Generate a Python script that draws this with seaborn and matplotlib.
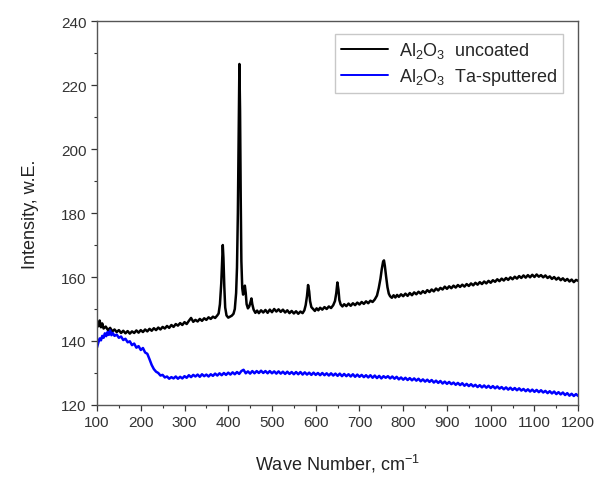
import matplotlib
matplotlib.use("Agg")
import matplotlib.pyplot as plt
from matplotlib.ticker import MultipleLocator
import seaborn as sns
import pandas as pd

# Raman-Spektren
uncoated_wn = [
    100, 103, 106, 109, 112, 115, 120, 125, 130, 135, 140, 145, 150, 155, 160, 165, 170, 175, 180, 185,
    190, 195, 200, 205, 210, 215, 220, 225, 230, 235, 240, 245, 250, 255, 260, 265, 270, 275, 280, 285,
    290, 295, 300, 305, 310, 315, 320, 325, 330, 335, 340, 345, 350, 355, 360, 365, 370, 375, 378, 381,
    384, 386, 387.5, 389, 391, 393, 396, 400, 404, 408, 412, 415, 418, 420, 422, 424, 425.5, 427, 428.5, 430,
    432, 434, 436, 438, 440, 442, 445, 448, 451, 453, 455, 458, 462, 466, 470, 475, 480, 485, 490, 495,
    500, 505, 510, 515, 520, 525, 530, 535, 540, 545, 550, 555, 560, 565, 570, 574, 577, 580, 582.5, 585,
    587, 590, 594, 598, 602, 606, 610, 615, 620, 625, 630, 635, 640, 644, 647, 649.5, 652, 654, 657, 661,
    665, 670, 675, 680, 685, 690, 695, 700, 705, 710, 715, 720, 725, 730, 735, 740, 744, 748, 751, 754,
    756, 758, 761, 764, 767, 770, 774, 778, 782, 786, 790, 795, 800, 805, 810, 815, 820, 825, 830, 835,
    840, 845, 850, 855, 860, 865, 870, 875, 880, 885, 890, 895, 900, 905, 910, 915, 920, 925, 930, 935,
    940, 945, 950, 955, 960, 965, 970, 975, 980, 985, 990, 995, 1000, 1005, 1010, 1015, 1020, 1025, 1030, 1035,
    1040, 1045, 1050, 1055, 1060, 1065, 1070, 1075, 1080, 1085, 1090, 1095, 1100, 1105, 1110, 1115, 1120, 1125, 1130, 1135,
    1140, 1145, 1150, 1155, 1160, 1165, 1170, 1175, 1180, 1185, 1190, 1195, 1200,
]
uncoated_int = [
    145.8, 144.6, 146.4, 144.3, 145.5, 143.9, 144.5, 143.4, 144.1, 143.0, 143.6, 142.8, 143.4, 142.5, 143.2, 142.4, 143.1, 142.3, 143.0, 142.5,
    143.3, 142.6, 143.4, 142.8, 143.6, 143.0, 143.8, 143.2, 144.0, 143.4, 144.2, 143.6, 144.4, 143.9, 144.7, 144.1, 145.0, 144.4, 145.3, 144.8,
    145.6, 145.0, 145.9, 145.3, 146.3, 147.2, 146.0, 146.6, 146.1, 146.9, 146.3, 147.1, 146.6, 147.4, 146.9, 147.6, 147.2, 148.0, 148.6, 151.5,
    158.0, 165.0, 170.0, 166.0, 157.0, 150.5, 148.0, 147.3, 147.6, 147.9, 148.5, 150.0, 155.0, 163.0, 180.0, 205.0, 226.6, 212.0, 185.0, 165.0,
    156.5, 154.5, 156.5, 157.3, 155.0, 151.5, 150.2, 150.8, 152.2, 153.3, 151.5, 149.8, 148.8, 149.5, 148.7, 149.6, 148.9, 149.7, 148.8, 149.8,
    149.0, 150.0, 149.2, 149.9, 149.1, 149.8, 148.9, 149.6, 148.7, 149.4, 148.6, 149.3, 148.5, 149.2, 148.7, 149.6, 151.2, 154.0, 157.5, 155.5,
    152.5, 150.6, 150.0, 149.4, 150.2, 149.6, 150.4, 149.8, 150.6, 150.0, 150.8, 150.3, 151.2, 152.5, 155.0, 158.3, 156.0, 152.8, 151.4, 150.8,
    151.5, 150.9, 151.7, 151.0, 151.8, 151.2, 152.0, 151.4, 152.2, 151.6, 152.4, 151.8, 152.6, 152.2, 153.0, 154.2, 156.5, 159.5, 162.5, 164.8,
    165.2, 163.5, 160.0, 156.8, 154.8, 154.0, 153.5, 154.3, 153.6, 154.4, 153.8, 154.6, 154.0, 154.8, 154.1, 155.0, 154.3, 155.2, 154.6, 155.4,
    154.8, 155.6, 155.0, 155.9, 155.3, 156.1, 155.5, 156.4, 155.8, 156.6, 156.1, 157.0, 156.3, 157.1, 156.5, 157.3, 156.7, 157.5, 156.9, 157.6,
    157.0, 157.8, 157.2, 158.0, 157.4, 158.2, 157.6, 158.4, 157.8, 158.6, 158.0, 158.8, 158.2, 159.0, 158.5, 159.3, 158.7, 159.5, 158.9, 159.7,
    159.1, 159.9, 159.3, 160.1, 159.5, 160.3, 159.7, 160.5, 159.8, 160.6, 159.9, 160.7, 160.0, 160.8, 160.1, 160.6, 159.9, 160.5, 159.7, 160.2,
    159.4, 160.0, 159.2, 159.8, 159.0, 159.6, 158.8, 159.4, 158.6, 159.2, 158.4, 159.1, 158.8,
]

sputtered_wn = [
    100, 103, 106, 109, 112, 115, 118, 121, 124, 127, 130, 133, 136, 140, 145, 150, 155, 160, 165, 170,
    175, 180, 185, 190, 195, 200, 205, 210, 215, 220, 225, 230, 235, 240, 245, 250, 255, 260, 265, 270,
    275, 280, 285, 290, 295, 300, 305, 310, 315, 320, 325, 330, 335, 340, 345, 350, 355, 360, 365, 370,
    375, 380, 385, 390, 395, 400, 405, 410, 415, 420, 425, 430, 435, 440, 445, 450, 455, 460, 465, 470,
    475, 480, 485, 490, 495, 500, 505, 510, 515, 520, 525, 530, 535, 540, 545, 550, 555, 560, 565, 570,
    575, 580, 585, 590, 595, 600, 605, 610, 615, 620, 625, 630, 635, 640, 645, 650, 655, 660, 665, 670,
    675, 680, 685, 690, 695, 700, 705, 710, 715, 720, 725, 730, 735, 740, 745, 750, 755, 760, 765, 770,
    775, 780, 785, 790, 795, 800, 805, 810, 815, 820, 825, 830, 835, 840, 845, 850, 855, 860, 865, 870,
    875, 880, 885, 890, 895, 900, 905, 910, 915, 920, 925, 930, 935, 940, 945, 950, 955, 960, 965, 970,
    975, 980, 985, 990, 995, 1000, 1005, 1010, 1015, 1020, 1025, 1030, 1035, 1040, 1045, 1050, 1055, 1060, 1065, 1070,
    1075, 1080, 1085, 1090, 1095, 1100, 1105, 1110, 1115, 1120, 1125, 1130, 1135, 1140, 1145, 1150, 1155, 1160, 1165, 1170,
    1175, 1180, 1185, 1190, 1195, 1200,
]
sputtered_int = [
    138.0, 139.5, 140.8, 140.2, 141.6, 141.0, 142.4, 141.5, 142.8, 141.9, 143.3, 141.8, 142.5, 141.6, 142.0, 141.0, 141.4, 140.3, 140.7, 139.6,
    139.9, 138.7, 139.2, 137.9, 138.4, 137.2, 137.8, 136.4, 136.0, 134.3, 132.5, 131.2, 130.4, 130.0, 129.2, 129.4, 128.6, 128.9, 128.2, 128.7,
    128.3, 128.9, 128.2, 128.8, 128.3, 129.0, 128.5, 129.3, 128.7, 129.4, 128.9, 129.5, 128.8, 129.6, 129.0, 129.5, 128.9, 129.6, 129.1, 129.8,
    129.2, 129.9, 129.3, 130.0, 129.4, 130.1, 129.5, 130.2, 129.6, 130.3, 129.7, 130.6, 131.0, 129.9, 130.5, 129.8, 130.6, 129.9, 130.6, 130.0,
    130.7, 130.0, 130.6, 129.9, 130.6, 129.9, 130.5, 129.8, 130.5, 129.8, 130.4, 129.7, 130.4, 129.7, 130.3, 129.6, 130.3, 129.6, 130.3, 129.5,
    130.2, 129.5, 130.1, 129.4, 130.1, 129.4, 130.0, 129.3, 130.0, 129.3, 129.9, 129.2, 129.9, 129.2, 129.8, 129.1, 129.8, 129.0, 129.7, 129.0,
    129.6, 128.9, 129.6, 128.8, 129.5, 128.8, 129.4, 128.7, 129.3, 128.6, 129.3, 128.5, 129.2, 128.4, 129.1, 128.3, 129.0, 128.5, 129.0, 128.3,
    128.9, 128.2, 128.8, 128.0, 128.6, 127.9, 128.5, 127.8, 128.4, 127.7, 128.3, 127.6, 128.2, 127.4, 128.0, 127.3, 127.9, 127.2, 127.8, 127.0,
    127.6, 126.9, 127.5, 126.7, 127.3, 126.6, 127.2, 126.5, 127.0, 126.3, 126.9, 126.2, 126.8, 126.0, 126.6, 125.9, 126.5, 125.8, 126.3, 125.6,
    126.2, 125.5, 126.1, 125.4, 126.0, 125.3, 125.9, 125.2, 125.8, 125.1, 125.6, 124.9, 125.5, 124.8, 125.4, 124.7, 125.3, 124.6, 125.2, 124.5,
    125.0, 124.3, 124.9, 124.2, 124.8, 124.1, 124.7, 124.0, 124.6, 123.9, 124.4, 123.7, 124.3, 123.6, 124.2, 123.4, 124.0, 123.3, 123.9, 123.1,
    123.7, 122.9, 123.5, 122.8, 123.4, 122.8,
]

df_unc = pd.DataFrame({"wn": uncoated_wn, "intensity": uncoated_int})
df_sput = pd.DataFrame({"wn": sputtered_wn, "intensity": sputtered_int})

sns.set_style("ticks")
plt.rcParams["font.family"] = ["Liberation Sans", "DejaVu Sans"]
plt.rcParams["mathtext.fontset"] = "custom"
plt.rcParams["mathtext.rm"] = "Liberation Sans"
plt.rcParams["mathtext.it"] = "Liberation Sans:italic"

fig = plt.figure(figsize=(5.97, 4.81), dpi=100)
ax = fig.add_axes([0.1625, 0.156, 0.806, 0.798])

sns.lineplot(data=df_unc, x="wn", y="intensity", ax=ax, color="black", lw=1.8,
             estimator=None, sort=False, label="Al$_2$O$_3$  uncoated")
sns.lineplot(data=df_sput, x="wn", y="intensity", ax=ax, color="#0000ff", lw=1.8,
             estimator=None, sort=False, label="Al$_2$O$_3$  Ta-sputtered")

ax.set_xlim(100, 1200)
ax.set_ylim(120, 240)
ax.xaxis.set_major_locator(MultipleLocator(100))
ax.xaxis.set_minor_locator(MultipleLocator(50))
ax.yaxis.set_major_locator(MultipleLocator(20))
ax.yaxis.set_minor_locator(MultipleLocator(10))
ax.tick_params(which="major", direction="out", length=4, width=0.9, colors="#333333", labelsize=11)
ax.tick_params(which="minor", direction="out", length=2.5, width=0.8, colors="#333333")
for sp in ax.spines.values():
    sp.set_visible(True)
    sp.set_color("#555555")
    sp.set_linewidth(1.0)

ax.set_xlabel("Wave Number, cm$^{-1}$", fontsize=13, color="#222222", labelpad=16)
ax.set_ylabel("Intensity, w.E.", fontsize=13, color="#222222", labelpad=16)

leg = ax.legend(loc="upper right", bbox_to_anchor=(0.969, 0.966), fontsize=13,
                frameon=True, fancybox=False, edgecolor="#bbbbbb", handlelength=2.6,
                borderpad=0.35, labelspacing=0.3, handletextpad=0.6, borderaxespad=0)
leg.get_frame().set_linewidth(1.0)
for h in leg.get_lines():
    h.set_linewidth(1.4)

fig.savefig("out.png", dpi=100)
